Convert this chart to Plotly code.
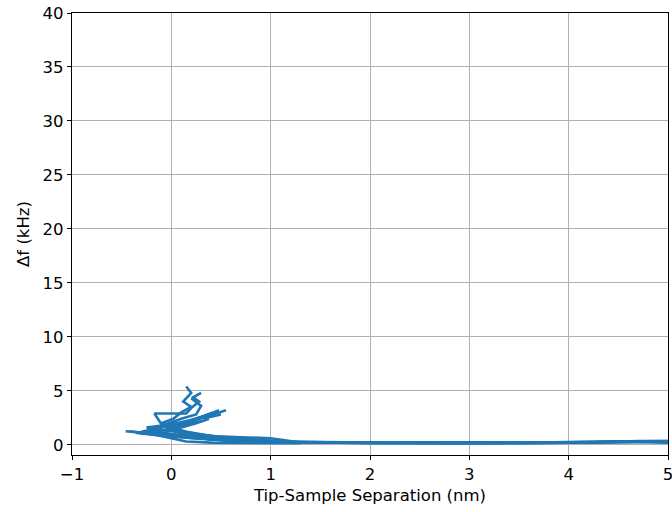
import plotly.graph_objects as go

# Approach curves (tip-sample separation in nm, frequency shift in kHz)
c1_x = [5.0, 4.7, 4.3, 3.8, 3.3, 2.8, 2.3, 1.8, 1.3, 1.0, 0.7, 0.4, 0.2, 0.0, -0.2, -0.46]
c1_y = [0.35, 0.35, 0.25, 0.2, 0.15, 0.15, 0.2, 0.2, 0.2, 0.25, 0.35, 0.5, 0.7, 0.9, 1.05, 1.25]

c2_x = [5.0, 4.6, 4.1, 3.6, 3.1, 2.6, 2.1, 1.6, 1.2, 0.9, 0.6, 0.35, 0.15, 0.0, -0.1, 0.02, 0.1, 0.2, 0.12, 0.2, 0.15]
c2_y = [0.3, 0.3, 0.2, 0.2, 0.15, 0.2, 0.15, 0.2, 0.25, 0.4, 0.6, 0.9, 1.2, 1.6, 2.0, 2.4, 3.0, 3.5, 4.0, 4.8, 5.4]

c3_x = [5.0, 4.5, 4.0, 3.5, 3.0, 2.5, 2.0, 1.5, 1.1, 0.8, 0.5, 0.25, 0.05, -0.1, -0.17, 0.15, 0.2, 0.28, 0.22, 0.3]
c3_y = [0.25, 0.25, 0.2, 0.15, 0.2, 0.2, 0.15, 0.2, 0.3, 0.45, 0.7, 1.0, 1.4, 1.9, 2.9, 2.9, 3.4, 4.0, 4.4, 4.8]

c4_x = [5.0, 4.6, 4.2, 3.7, 3.2, 2.7, 2.2, 1.7, 1.2, 0.9, 0.6, 0.3, 0.1, -0.05, 0.15, 0.3, 0.45, 0.55]
c4_y = [0.2, 0.3, 0.25, 0.2, 0.2, 0.15, 0.2, 0.2, 0.25, 0.35, 0.55, 0.8, 1.1, 1.5, 2.0, 2.5, 2.9, 3.2]

c5_x = [5.0, 4.5, 4.0, 3.5, 3.0, 2.5, 2.0, 1.5, 1.0, 0.7, 0.4, 0.2, 0.0, -0.15, -0.3, -0.1, 0.1, 0.3, 0.42]
c5_y = [0.3, 0.25, 0.2, 0.2, 0.15, 0.15, 0.2, 0.2, 0.3, 0.5, 0.7, 0.9, 1.0, 1.1, 1.2, 1.6, 2.0, 2.6, 3.0]

c6_x = [5.0, 4.6, 4.1, 3.6, 3.1, 2.6, 2.1, 1.6, 1.1, 0.8, 0.5, 0.25, 0.05, -0.1, 0.05, 0.2, 0.35, 0.48]
c6_y = [0.25, 0.3, 0.2, 0.2, 0.15, 0.2, 0.2, 0.15, 0.2, 0.3, 0.45, 0.6, 0.8, 1.0, 1.5, 2.2, 2.7, 3.2]

c7_x = [5.0, 4.5, 4.0, 3.5, 3.0, 2.5, 2.0, 1.5, 1.0, 0.7, 0.4, 0.2, 0.0, -0.2, -0.05, 0.1, 0.25, 0.3, 0.2]
c7_y = [0.3, 0.25, 0.2, 0.15, 0.2, 0.2, 0.15, 0.2, 0.2, 0.3, 0.45, 0.6, 0.8, 1.3, 1.9, 2.4, 2.8, 3.6, 4.3]

c8_x = [5.0, 4.6, 4.2, 3.7, 3.2, 2.7, 2.2, 1.7, 1.2, 0.9, 0.6, 0.35, 0.1, -0.1, -0.3, -0.1, 0.1, 0.3]
c8_y = [0.35, 0.3, 0.25, 0.2, 0.15, 0.2, 0.15, 0.2, 0.2, 0.3, 0.45, 0.65, 0.85, 1.0, 1.15, 1.3, 1.8, 2.2]

c9_x = [1.3, 1.0, 0.7, 0.4, 0.2, 0.05, -0.1, -0.25, 0.0, 0.2, 0.4, 0.5]
c9_y = [0.2, 0.6, 0.7, 0.8, 1.0, 1.2, 1.4, 1.6, 1.9, 2.3, 2.6, 2.8]

c10_x = [1.1, 0.8, 0.5, 0.3, 0.1, -0.05, -0.2, -0.35, -0.1, 0.1, 0.25, 0.38]
c10_y = [0.3, 0.5, 0.55, 0.6, 0.7, 0.8, 0.95, 1.1, 1.3, 1.6, 2.0, 2.4]

c11_x = [1.3, 0.8, 0.4, 0.15, 0.0, -0.15, -0.3, -0.42]
c11_y = [0.15, 0.15, 0.2, 0.3, 0.6, 0.9, 1.1, 1.25]

curves = [(c1_x, c1_y), (c2_x, c2_y), (c3_x, c3_y), (c4_x, c4_y),
          (c5_x, c5_y), (c6_x, c6_y), (c7_x, c7_y), (c8_x, c8_y),
          (c9_x, c9_y), (c10_x, c10_y), (c11_x, c11_y)]

x_ticks = [-1, 0, 1, 2, 3, 4, 5]
y_ticks = [0, 5, 10, 15, 20, 25, 30, 35, 40]

FONT = "DejaVu Sans"
FS = 16.5

fig = go.Figure()
for cx, cy in curves:
    fig.add_trace(go.Scatter(x=cx, y=cy, mode="lines",
                             line=dict(color="#1f77b4", width=2.6),
                             showlegend=False, hoverinfo="skip"))

axis_common = dict(
    showline=True, linecolor="black", linewidth=1.3, mirror=True,
    ticks="outside", ticklen=4, tickwidth=1.2, tickcolor="black",
    showgrid=True, gridcolor="#b0b0b0", gridwidth=1,
    zeroline=False, automargin=False, ticklabeloverflow="allow",
    tickfont=dict(family=FONT, size=FS, color="black"),
)

fig.update_xaxes(range=[-1, 5], tickvals=x_ticks,
                 title=dict(text="Tip-Sample Separation (nm)", standoff=6,
                            font=dict(family=FONT, size=FS, color="black")),
                 **axis_common)
fig.update_yaxes(range=[-0.95, 40], tickvals=y_ticks,
                 title=dict(text="Δf (kHz)", standoff=8,
                            font=dict(family=FONT, size=FS, color="black")),
                 **axis_common)

fig.update_layout(
    width=672, height=512,
    margin=dict(l=72, r=4, t=13, b=57),
    paper_bgcolor="white", plot_bgcolor="white",
    font=dict(family=FONT, size=FS, color="black"),
)

fig.write_html("out.html", config={"displayModeBar": False},
               post_script="document.body.style.margin='0';document.body.style.overflow='hidden';")
